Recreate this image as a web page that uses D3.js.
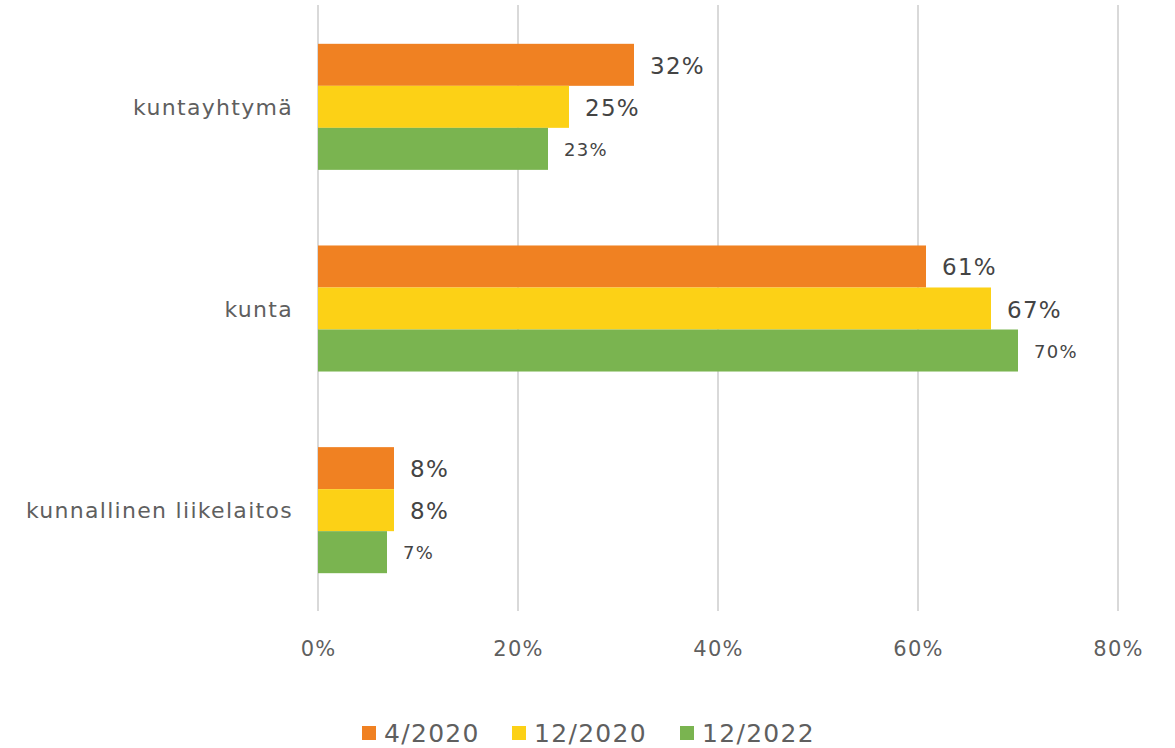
<!DOCTYPE html>
<html>
<head>
<meta charset="utf-8">
<script src="https://cdn.jsdelivr.net/npm/d3@7"></script>
<style>
  body { margin: 0; background: #fff; }
  svg { display: block; font-family: "DejaVu Sans", "Liberation Sans", sans-serif; }
</style>
</head>
<body>
<svg id="chart" width="1175" height="748"></svg>
<script>
"use strict";

// chart data
const categories = ["kuntayhtymä", "kunta", "kunnallinen liikelaitos"];
const seriesNames = ["4/2020", "12/2020", "12/2022"];
const seriesColors = ["#f08122", "#fcd116", "#7ab450"];
const values = [
    [31.6, 60.8, 7.6],   // 4/2020
    [25.1, 67.3, 7.6],   // 12/2020
    [23.0, 70.0, 6.9]    // 12/2022
];
const labels = [
    ["32%", "61%", "8%"],
    ["25%", "67%", "8%"],
    ["23%", "70%", "7%"]
];
const xTicks = [0, 20, 40, 60, 80];

const margin = { top: 6, left: 318, right: 57, bottom: 137 };
const width = 1175, height = 748;

const svg = d3.select("#chart");

const x = d3.scaleLinear()
    .domain([0, 80])
    .range([margin.left, width - margin.right]);

const y = d3.scaleBand()
    .domain(categories)
    .range([margin.top, height - margin.bottom])
    .paddingInner(0.375)
    .paddingOuter(0.1875);

const inner = d3.scaleBand()
    .domain(seriesNames)
    .range([0, y.bandwidth()]);

// gridlines
svg.append("g")
    .selectAll("line")
    .data(xTicks)
    .enter().append("line")
        .attr("x1", d => x(d))
        .attr("x2", d => x(d))
        .attr("y1", 5)
        .attr("y2", height - margin.bottom)
        .attr("stroke", "#d9d9d9")
        .attr("stroke-width", 2);

// tick labels (letter-spacing adds a trailing gap, nudge to keep centred)
svg.append("g")
    .selectAll("text")
    .data(xTicks)
    .enter().append("text")
        .attr("x", d => x(d) + 0.6)
        .attr("y", 656)
        .attr("text-anchor", "middle")
        .attr("fill", "#5f5f5f")
        .attr("font-size", 21)
        .attr("letter-spacing", 1.3)
        .text(d => d + "%");

// category labels
svg.append("g")
    .selectAll("text")
    .data(categories)
    .enter().append("text")
        .attr("x", margin.left - 25)
        .attr("y", d => y(d) + y.bandwidth() / 2 + 8)
        .attr("text-anchor", "end")
        .attr("fill", "#5f5f5f")
        .attr("font-size", 22)
        .attr("letter-spacing", 1.3)
        .text(d => d);

// bars + value labels
seriesNames.forEach(function(name, si) {
    const g = svg.append("g");
    g.selectAll("rect")
        .data(categories)
        .enter().append("rect")
            .attr("x", x(0))
            .attr("y", d => y(d) + inner(name))
            .attr("width", (d, ci) => x(values[si][ci]) - x(0))
            .attr("height", inner.bandwidth())
            .attr("fill", seriesColors[si]);

    const big = si < 2;
    g.selectAll("text")
        .data(categories)
        .enter().append("text")
            .attr("x", (d, ci) => x(values[si][ci]) + 16)
            .attr("y", d => y(d) + inner(name) + inner.bandwidth() / 2 + (big ? 9 : 7))
            .attr("fill", "#444")
            .attr("font-size", big ? 23 : 18)
            .attr("letter-spacing", 1.3)
            .text((d, ci) => labels[si][ci]);
});

// legend
const legendX = [362, 512, 680];
const legend = svg.append("g");
seriesNames.forEach(function(name, i) {
    legend.append("rect")
        .attr("x", legendX[i])
        .attr("y", 726)
        .attr("width", 14)
        .attr("height", 14)
        .attr("fill", seriesColors[i]);
    legend.append("text")
        .attr("x", legendX[i] + 22)
        .attr("y", 742)
        .attr("fill", "#5f5f5f")
        .attr("font-size", 25)
        .attr("letter-spacing", 1.3)
        .text(name);
});
</script>
</body>
</html>
